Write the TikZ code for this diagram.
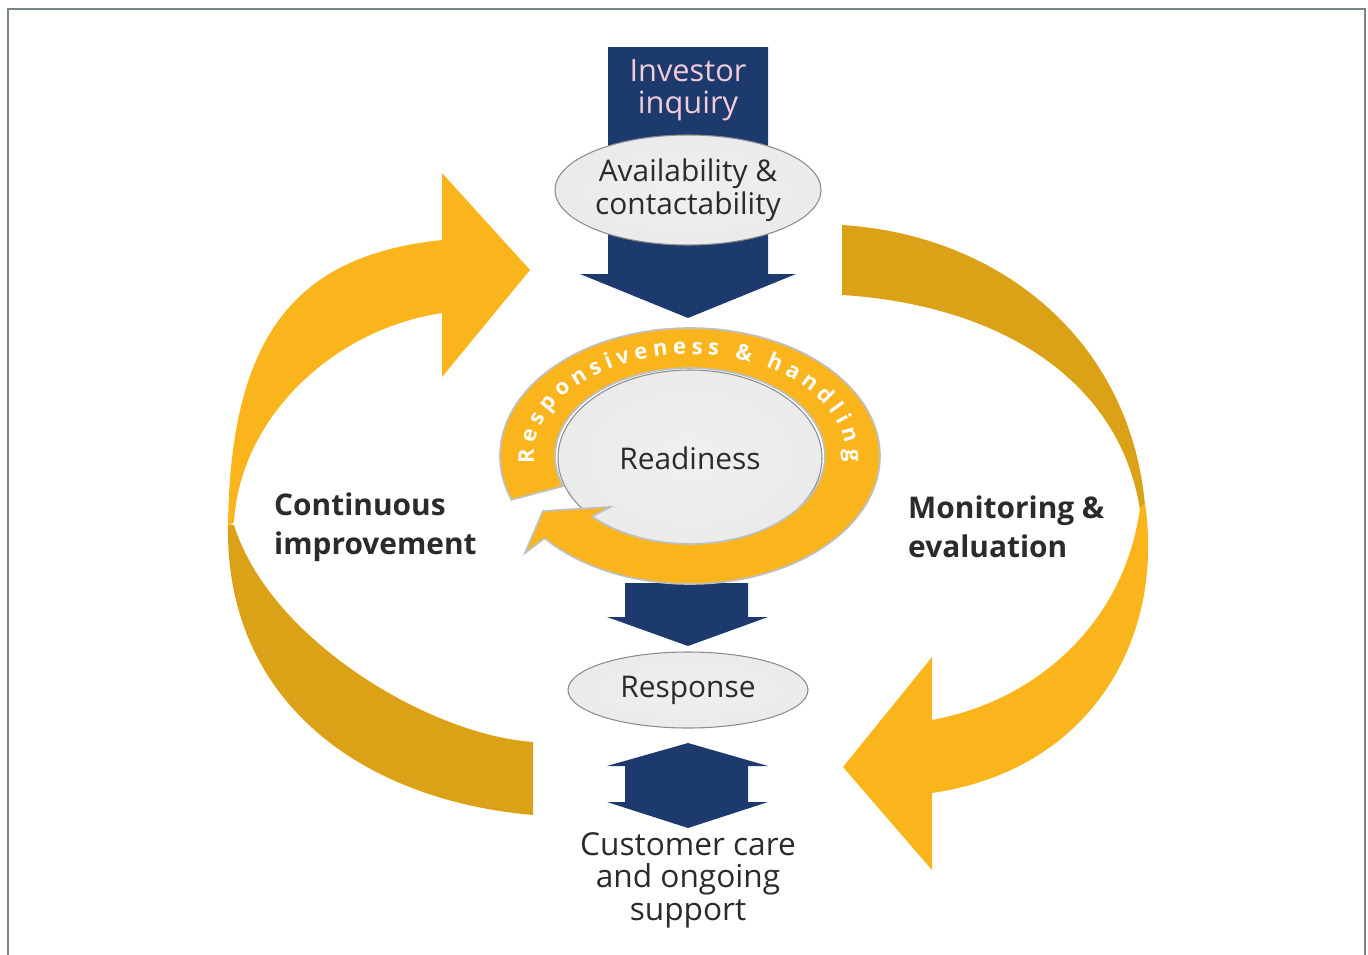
\documentclass[tikz,border=0pt]{standalone}
\usepackage{fontspec}
\setmainfont{Open Sans}
\usetikzlibrary{shapes,positioning,decorations.text}
\definecolor{navy}{HTML}{1C3A6E}
\definecolor{goldlight}{HTML}{F9B51B}
\definecolor{golddark}{HTML}{DCA217}
\definecolor{inktext}{HTML}{2B2B2B}
\definecolor{pinkish}{HTML}{F2CCD6}
\definecolor{framegray}{HTML}{7C848B}
\pgfdeclareradialshading{bubbleshade}{\pgfpoint{0bp}{0bp}}{color(0bp)=(black!6); color(36bp)=(black!9); color(46bp)=(black!25); color(50bp)=(black!45)}
\tikzset {
bubble/.style={shape=ellipse,draw=black!45,line width=0.6pt,shading=bubbleshade,inner sep=0pt,text=inktext,align=center},
bluearrow/.style={fill=navy},
lightband/.style={fill=goldlight},
darkband/.style={fill=golddark},
sidelabel/.style={font=\fontsize{17}{22}\selectfont\bfseries,text=inktext,align=left,anchor=west}
}

\begin{document}
\begin{tikzpicture}
[x=0.2mm,y=-0.2mm]
\useasboundingbox (0,0) rectangle (1368,955);
\draw[framegray,line width=1.2pt] (8,955) -- (8,9) -- (1365,9) -- (1365,955);

% left band
\fill[darkband] (228,525) .. controls (225,700) and (360,800) .. (533,815) -- (533,742) .. controls (430,735) and (270,640) .. (234,525) -- cycle;
\fill[lightband] (228,527) .. controls (230,330) and (300,255) .. (442,240) -- (442,173) -- (530,270) -- (442,377) -- (442,313) .. controls (330,330) and (240,420) .. (234,522) -- cycle;
% right band
\fill[darkband] (842,225) .. controls (1000,235) and (1130,340) .. (1145,505) -- (1140,510) .. controls (1120,380) and (1000,305) .. (842,295) -- cycle;
\fill[lightband] (1145,503) .. controls (1165,640) and (1090,770) .. (932,793) -- (932,870) -- (843,767) -- (932,657) -- (932,720) .. controls (1040,700) and (1125,620) .. (1140,508) -- cycle;

% blue arrows
\fill[bluearrow] (608,47) -- (768,47) -- (768,274) -- (796,274) -- (688,318) -- (580,274) -- (608,274) -- cycle;
\fill[bluearrow] (625,583) -- (748,583) -- (748,617) -- (768,617) -- (688,646) -- (607,617) -- (625,617) -- cycle;
\fill[bluearrow] (688,743) -- (768,766) -- (748,766) -- (748,802) -- (768,802) -- (688,828) -- (607,802) -- (625,802) -- (625,766) -- (607,766) -- cycle;

\node[text=pinkish,align=center,font=\fontsize{17.5}{18}\selectfont] (inquiry) at (688,90) {Investor\\inquiry};
\node[bubble,minimum width=53.2mm,minimum height=22mm,font=\fontsize{17}{19}\selectfont] (avail) at (688,190) {Availability \&\\contactability};
\node[bubble,minimum width=52.8mm,minimum height=35.2mm,font=\fontsize{17}{19}\selectfont] (ready) at (690,458) {Readiness};

% ring round readiness
\fill[lightband,draw=black!25,line width=1pt] plot[domain=160:500,samples=90] ({690+190*cos(\x)},{456+128*sin(\x)}) -- (525,553) -- (543,511) -- (610,507) -- plot[domain=496.5:160,samples=90] ({690+135*cos(\x)},{456+88*sin(\x)}) -- cycle;
\path[decorate,decoration={text along path,text align={fit to path},text={|\fontsize{12.5}{12.5}\selectfont\bfseries\color{white}|Responsiveness {\&} handling}}] (534.4,463.2) arc[start angle=184,end angle=-3,x radius=31.2mm,y radius=20.4mm];

\node[bubble,minimum width=48mm,minimum height=15.2mm,font=\fontsize{17}{19}\selectfont] (response) at (688,690) {Response};
\node[align=center,text=inktext,font=\fontsize{18}{18.5}\selectfont] (care) at (688,880) {Customer care\\and ongoing\\support};
\node[sidelabel] (improve) at (268,527) {Continuous\\improvement};
\node[sidelabel] (monitor) at (902,527) {Monitoring \&\\evaluation};
\end{tikzpicture}
\end{document}
